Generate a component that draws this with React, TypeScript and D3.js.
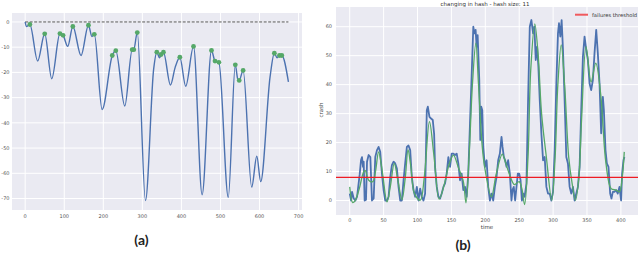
import React from "react"
import * as d3 from "d3"

// panel (a): curve control points (x, value)
const aX = [0, 3, 12, 32, 50, 68, 89, 97, 109, 122, 143, 162, 171, 177, 197, 223, 232, 255, 274, 278, 287, 308, 329, 337, 344, 348, 354, 372, 384, 396, 411, 431, 453, 477, 486, 496, 520, 538, 544, 548, 558, 580, 593, 603, 627, 638, 645, 651, 657, 674]
const aY = [0, -1.8, -1, -15.5, -4.7, -22.5, -4.6, -5.3, -9.7, -1.8, -13.3, -1.3, -5.8, -4.9, -34.7, -13.3, -11.4, -33.3, -11, -11, -4.2, -70.8, -18.6, -12, -14.2, -12.9, -12, -25, -18, -14, -25.5, -9.7, -68.5, -11.3, -15.5, -16, -69.5, -17, -22.5, -23.2, -19.2, -65.5, -53.2, -63.3, -21.8, -12.4, -14.2, -13.3, -13.3, -23.8]
const aPeakX = [12, 50, 89, 97, 122, 162, 177, 223, 232, 274, 278, 287, 337, 348, 354, 396, 431, 477, 486, 496, 538, 548, 558, 638, 651, 657]
const aPeakY = [-1, -4.7, -4.6, -5.3, -1.8, -1.3, -4.9, -13.3, -11.4, -11, -11, -4.2, -12, -12.9, -12, -14, -9.7, -11.3, -15.5, -16, -17, -23.2, -19.2, -12.4, -13.3, -13.3]
const aXTicks = [0, 100, 200, 300, 400, 500, 600, 700]
const aYTicks = [0, -10, -20, -30, -40, -50, -60, -70]

// panel (b): raw crash signal and smoothed signal
const bBlueT = [0, 2, 3.4, 5.9, 8.3, 10.8, 14.7, 16.7, 18.1, 19.6, 20.6, 22, 24, 25.5, 27.9, 30.4, 32.8, 35.3, 37.7, 40.2, 42.6, 45, 47.5, 50, 52.4, 54.9, 57.3, 59.8, 62.2, 64.7, 67.1, 69.6, 72, 74.5, 76.9, 79.4, 81.8, 84.3, 86.7, 89.2, 91.6, 94.1, 96.5, 99, 101.4, 103.9, 106.3, 108.8, 111.2, 113.7, 115.2, 117.6, 120, 122.5, 124.5, 125.9, 128.4, 130.8, 133.3, 135.7, 138.2, 140.6, 143, 145.5, 148, 150.4, 152.9, 155.3, 157.8, 160.2, 162.7, 165.1, 167.6, 170, 172.5, 174.9, 177.4, 179.8, 182.3, 183.8, 185.7, 187.2, 188.7, 191.1, 192.6, 194, 195.5, 197, 199.4, 201.9, 204.3, 206.8, 209.2, 211.7, 214.1, 216.6, 219, 221.5, 223.9, 225.4, 227.4, 229.3, 231.3, 233.7, 236.2, 238.6, 240.1, 242, 244, 246, 248, 250, 252, 254, 256, 258, 260.7, 263.1, 265.6, 268, 270.5, 272.4, 274.4, 276.4, 278.3, 280.3, 282.7, 285.2, 287.6, 290.1, 292.5, 295, 297.4, 299.9, 302.3, 304.8, 307.2, 308.7, 310.7, 312.6, 314.6, 317, 319.5, 321.9, 324.4, 326.8, 329.3, 331.7, 334.2, 336.6, 339.1, 341.5, 344, 346.4, 348.9, 351.3, 353.8, 356.2, 358.7, 361.1, 363.6, 366, 368.5, 370.9, 373.4, 374.9, 377.3, 379.3, 381.7, 384.2, 386.1, 388.1, 390.5, 393, 395.4, 397.9, 400.3, 401.8, 403.8, 405.2]
const bBlueV = [2.4, 0, 3, 0.7, 0, 1.3, 9, 14, 15, 11.6, 13.4, 0, 0.3, 13.4, 15.7, 15, 0, 0.7, 15, 17.4, 18.5, 16.8, 9.3, 3.6, 0, 0, 1.3, 8.2, 12.2, 13.4, 12.8, 11, 4.7, 0, 0, 7, 12.8, 18.5, 19, 17.4, 8.2, 3.6, 1.3, 4.7, 0, 4.1, 1.3, 0, 2.4, 31.2, 32.4, 28.9, 28.3, 27.8, 23, 11.6, 4.7, 1.3, 0.7, 2.4, 4.7, 5.9, 9.3, 15, 11.6, 16.2, 16.2, 15.7, 16.2, 12.8, 7, 9.3, 3.6, 4.7, 1.3, 9.3, 26.6, 42.7, 60, 57.7, 58.9, 53.1, 57.1, 41.6, 20.9, 32.4, 31.2, 18.5, 11.6, 13.9, 4.7, 0, 2.4, 0, 4.7, 8.2, 13.9, 16.2, 22, 18.5, 15, 13.9, 11.6, 13.9, 9.3, 0, 3.6, 4.7, 0, 4.7, 9.3, 9.3, 7, 0, 2.4, 1.3, 5.9, 34.7, 60, 62.3, 57.7, 60, 48.5, 53.1, 46.2, 34.7, 23.2, 13.9, 15, 4.7, 2.4, 2.4, 0, 3, 17.4, 40.4, 57.7, 61.2, 56.6, 62.3, 52, 34.7, 15, 12.8, 4.7, 2.4, 4.7, 0, 2.4, 4.7, 11.6, 31.2, 49.7, 56.6, 52, 48.5, 40.4, 38.1, 41.6, 50.8, 58.9, 50.8, 40.4, 23.2, 35.8, 31.2, 17.4, 12.8, 11.6, 2.4, 0.7, 3, 3, 3.6, 2.4, 4.7, 0, 9.3, 13.9, 15]
const bGreenT = [0, 4.4, 8, 14, 20.6, 23, 28, 34, 38, 42.6, 48, 55, 60, 65.7, 71, 77, 82, 86, 90, 95.5, 104, 110, 117.6, 124, 132, 140, 146, 153, 160, 167.6, 171.5, 176, 181, 186, 190, 195, 199, 209, 216, 225, 230, 236, 243, 250, 254, 258, 263, 267, 273, 278, 283, 290, 298, 303, 307, 312, 317, 323, 328, 333, 338, 342, 348.6, 356, 363, 370.6, 373, 378, 385.6, 393, 398, 402, 405]
const bGreenV = [4.7, -0.7, 0, 4, 9.9, 10.3, 7, 6.5, 10, 16.8, 10, -0.5, 5, 12.8, 7, 0.3, 8, 17.6, 12, 2.4, 0.1, 8, 27.2, 16, 0.5, 6, 12, 15.7, 11.6, 6.5, -0.8, 15, 40, 54.3, 40, 20, 11.6, 1.3, 9, 16, 13, 8.8, 5.5, 6.5, 4, -1.4, 15, 45, 61, 50, 30, 15.1, 0.1, 15, 40, 53.7, 40, 15, 6, 0.1, 8, 28, 53.1, 41, 47.4, 35.8, 28, 12.8, 4.1, 3.6, 3, 8, 16.8]
const bThreshold = 8
const bXTicks = [0, 50, 100, 150, 200, 250, 300, 350, 400]
const bYTicks = [0, 10, 20, 30, 40, 50, 60]

const BG = "#eaeaf2"
const BLUE = "#4c72b0"
const GREEN = "#55a868"
const RED = "#ee1c24"
const TICK = { fontFamily: "DejaVu Sans", fontSize: 5, fill: "#555" }

export default function App() {
  const ax = d3.scaleLinear().domain([-33.75, 708.75]).range([12, 302])
  const ay = d3.scaleLinear().domain([3.55, -74.55]).range([13, 210])
  const bx = d3.scaleLinear().domain([-20.25, 425.25]).range([336, 638])
  const by = d3.scaleLinear().domain([66.8, -5.0]).range([7, 215])

  const aLine = d3.line<number>().x((d, i) => ax(aX[i])).y(d => ay(d)).curve(d3.curveMonotoneX)
  const blueLine = d3.line<number>().x((d, i) => bx(bBlueT[i])).y(d => by(d))
  const greenLine = d3.line<number>().x((d, i) => bx(bGreenT[i])).y(d => by(d)).curve(d3.curveCatmullRom)

  return (
    <svg width={640} height={253} style={{ position: "absolute", left: 0, top: 0, background: "#fff" }}>
      {/* panel a */}
      <rect x={12} y={13} width={290} height={197} fill={BG} />
      {aXTicks.map(t => (
        <line key={"agx" + t} x1={ax(t)} x2={ax(t)} y1={13} y2={210} stroke="#fff" strokeWidth={1} />
      ))}
      {aYTicks.map(t => (
        <line key={"agy" + t} x1={12} x2={302} y1={ay(t)} y2={ay(t)} stroke="#fff" strokeWidth={1} />
      ))}
      {aXTicks.map(t => (
        <text key={"axl" + t} x={ax(t)} y={217.5} textAnchor="middle" {...TICK}>{t}</text>
      ))}
      {aYTicks.map(t => (
        <text key={"ayl" + t} x={9.5} y={ay(t) + 1.8} textAnchor="end" {...TICK}>{t}</text>
      ))}
      <line x1={ax(0)} x2={ax(674)} y1={ay(0)} y2={ay(0)} stroke="#555" strokeWidth={1} strokeDasharray="3,1.5" />
      <path d={aLine(aY) || ""} fill="none" stroke={BLUE} strokeWidth={1.4} />
      {aPeakX.map((x, i) => (
        <circle key={"ap" + i} cx={ax(x)} cy={ay(aPeakY[i])} r={2.4} fill={GREEN} />
      ))}
      <text x={141.5} y={245} textAnchor="middle" fontFamily="Lato" fontWeight="bold" fontSize={14} fill="#222">(a)</text>

      {/* panel b */}
      <text x={485} y={5.5} textAnchor="middle" fontFamily="DejaVu Sans" fontSize={5.5} fill="#333">changing in hash - hash size: 11</text>
      <rect x={336} y={7} width={302} height={208} fill={BG} />
      {bXTicks.map(t => (
        <line key={"bgx" + t} x1={bx(t)} x2={bx(t)} y1={7} y2={215} stroke="#fff" strokeWidth={1} />
      ))}
      {bYTicks.map(t => (
        <line key={"bgy" + t} x1={336} x2={638} y1={by(t)} y2={by(t)} stroke="#fff" strokeWidth={1} />
      ))}
      {bXTicks.map(t => (
        <text key={"bxl" + t} x={bx(t)} y={221.5} textAnchor="middle" {...TICK}>{t}</text>
      ))}
      {bYTicks.map(t => (
        <text key={"byl" + t} x={332} y={by(t) + 1.8} textAnchor="end" {...TICK}>{t}</text>
      ))}
      <text x={487} y={229} textAnchor="middle" fontFamily="DejaVu Sans" fontSize={5.5} fill="#444">time</text>
      <text transform={`translate(323, 110) rotate(-90)`} textAnchor="middle" fontFamily="DejaVu Sans" fontSize={5.5} fill="#444">crash</text>
      <path d={blueLine(bBlueV) || ""} fill="none" stroke={BLUE} strokeWidth={1.8} strokeLinejoin="round" />
      <path d={greenLine(bGreenV) || ""} fill="none" stroke={GREEN} strokeWidth={1.3} />
      <line x1={336} x2={638} y1={by(bThreshold)} y2={by(bThreshold)} stroke={RED} strokeWidth={1.3} />
      <line x1={575} x2={588} y1={14.7} y2={14.7} stroke="#f05a5e" strokeWidth={2} />
      <text x={592} y={16.6} fontFamily="DejaVu Sans" fontSize={5.2} fill="#333">failures threshold</text>
      <text x={463} y={250} textAnchor="middle" fontFamily="Lato" fontWeight="bold" fontSize={14} fill="#222">(b)</text>
    </svg>
  )
}
